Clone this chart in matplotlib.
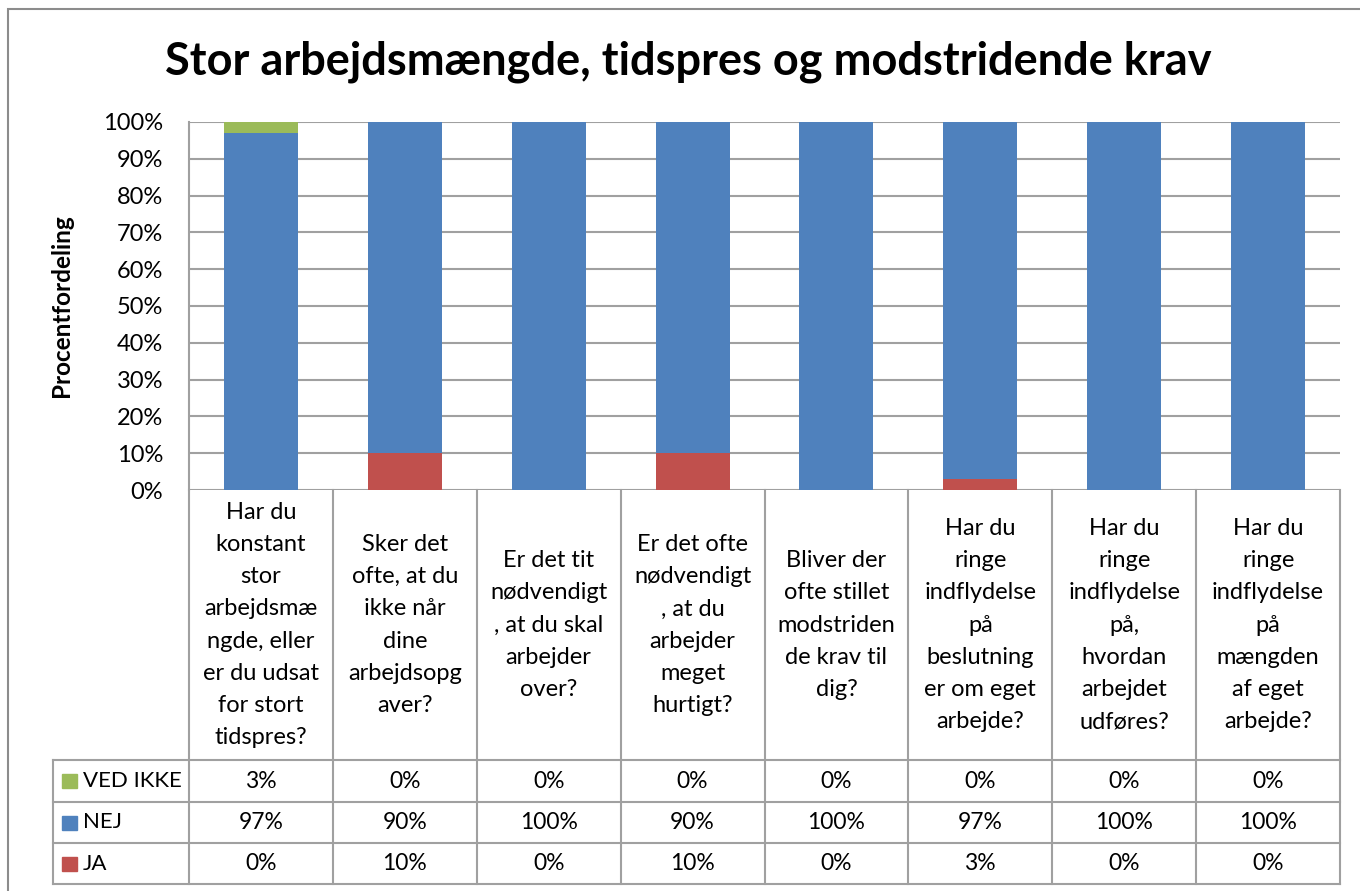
import matplotlib
matplotlib.use("Agg")
import matplotlib.pyplot as plt
from matplotlib.patches import Rectangle

plt.rcParams['font.family'] = ['Lato', 'DejaVu Sans']

title = "Stor arbejdsmængde, tidspres og modstridende krav"
ylabel = "Procentfordeling"
categories = [
    "Har du\nkonstant\nstor\narbejdsmæ\nngde, eller\ner du udsat\nfor stort\ntidspres?",
    "Sker det\nofte, at du\nikke når\ndine\narbejdsopg\naver?",
    "Er det tit\nnødvendigt\n, at du skal\narbejder\nover?",
    "Er det ofte\nnødvendigt\n, at du\narbejder\nmeget\nhurtigt?",
    "Bliver der\nofte stillet\nmodstriden\nde krav til\ndig?",
    "Har du\nringe\nindflydelse\npå\nbeslutning\ner om eget\narbejde?",
    "Har du\nringe\nindflydelse\npå,\nhvordan\narbejdet\nudføres?",
    "Har du\nringe\nindflydelse\npå\nmængden\naf eget\narbejde?",
]
ved_ikke = [3, 0, 0, 0, 0, 0, 0, 0]
nej = [97, 90, 100, 90, 100, 97, 100, 100]
ja = [0, 10, 0, 10, 0, 3, 0, 0]
series_names = ["VED IKKE", "NEJ", "JA"]
yticks = [0, 10, 20, 30, 40, 50, 60, 70, 80, 90, 100]

c_green = "#9BBB59"
c_blue = "#4F81BD"
c_red = "#C0504D"
grid_c = "#A0A0A0"

W, H = 1360, 891
fig = plt.figure(figsize=(W / 100, H / 100), dpi=100)

def fx(px):
    return px / W

def fy(py):
    return 1 - py / H

# outer chart border
fig.patches.append(Rectangle((fx(8), fy(905)), fx(1380) - fx(8), fy(9) - fy(905),
                             transform=fig.transFigure, fill=False,
                             edgecolor="#8C8C8C", linewidth=1.5))

# plot area
pl, pr, pt, pb = 189, 1340, 122, 490
ax = fig.add_axes([fx(pl), fy(pb), fx(pr) - fx(pl), fy(pt) - fy(pb)])
n = len(categories)
x = [i + 0.5 for i in range(n)]
bw = 0.515
ax.bar(x, ja, bw, color=c_red, zorder=3)
ax.bar(x, nej, bw, bottom=ja, color=c_blue, zorder=3)
bot2 = [a + b for a, b in zip(ja, nej)]
ax.bar(x, ved_ikke, bw, bottom=bot2, color=c_green, zorder=3)
ax.set_xlim(0, n)
ax.set_ylim(0, 100)
ax.set_yticks(yticks)
ax.set_yticklabels([f"{v}%" for v in yticks], fontsize=17)
ax.tick_params(axis='y', length=0, pad=18.5)
ax.set_xticks([])
ax.grid(axis='y', color=grid_c, linewidth=1.5, zorder=0)
for s in ["top", "right", "bottom"]:
    ax.spines[s].set_visible(False)
ax.spines["left"].set_color(grid_c)
ax.spines["left"].set_linewidth(1.5)
ax.set_ylabel(ylabel, fontsize=17.5, fontweight="bold", labelpad=22)

fig.text(fx(688), fy(62), title, ha="center", va="center",
         fontsize=32.5, fontweight="bold")

# data table axes
tl, tr, tt, tb = 53, 1340, 490, 884
cw = (pr - pl) / n
leg_w = (pl - tl) / cw
tax = fig.add_axes([fx(tl), fy(tb), fx(tr) - fx(tl), fy(tt) - fy(tb)])
tax.set_xlim(-leg_w, n)
tax.set_ylim(tb - tt, 0)
tax.axis("off")
row_y = [270, 312, 353, 394]
lw = 1.5
for i in range(n + 1):
    tax.plot([i, i], [0, row_y[-1]], color=grid_c, lw=lw, clip_on=False)
tax.plot([-leg_w, -leg_w], [row_y[0], row_y[-1]], color=grid_c, lw=lw, clip_on=False)
for r in row_y:
    tax.plot([-leg_w, n], [r, r], color=grid_c, lw=lw, clip_on=False)

for i, lab in enumerate(categories):
    tax.text(i + 0.5, row_y[0] / 2, lab, ha="center", va="center",
             fontsize=17, linespacing=1.66)

rows = [ved_ikke, nej, ja]
colors = [c_green, c_blue, c_red]
for k, (name, vals, col) in enumerate(zip(series_names, rows, colors)):
    yc = (row_y[k] + row_y[k + 1]) / 2
    tax.add_patch(Rectangle((-leg_w + 0.06, yc - 7), 0.105, 14, color=col, clip_on=False))
    tax.text(-leg_w + 0.21, yc, name, ha="left", va="center", fontsize=16)
    for i, v in enumerate(vals):
        tax.text(i + 0.5, yc, f"{v}%", ha="center", va="center", fontsize=16.5)

fig.savefig("out.png", dpi=100)
